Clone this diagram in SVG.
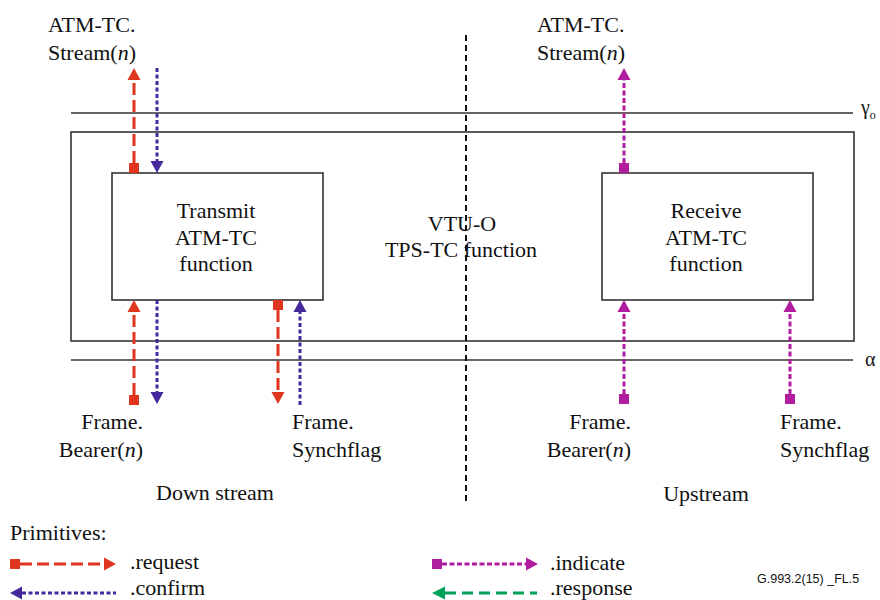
<svg xmlns="http://www.w3.org/2000/svg" width="880" height="600" viewBox="0 0 880 600">
<style>
.box{fill:#fff;stroke:#333;stroke-width:1.6}
.ref{stroke:#333;stroke-width:1.6}
.req{stroke:#E0361F;stroke-width:3;stroke-dasharray:12 5;fill:none}
.cnf{stroke:#44289C;stroke-width:3;stroke-dasharray:4 2.5;fill:none}
.ind{stroke:#B01D9F;stroke-width:3;stroke-dasharray:5 2.5;fill:none}
.rsp{stroke:#00A057;stroke-width:3;stroke-dasharray:11 6;fill:none}
.fr{fill:#E0361F}.fc{fill:#44289C}.fi{fill:#B01D9F}.fg{fill:#00A057}
</style>
<rect width="880" height="600" fill="#fff"/>
<g font-family="'Liberation Serif', 'Times New Roman', serif" font-size="22" fill="#111">
<g id="reference-lines">
<line class="ref" x1="71" y1="113" x2="853" y2="113"/>
<line class="ref" x1="71" y1="360" x2="853" y2="360"/>
<text x="861" y="114" font-size="20">γ<tspan font-size="12" dy="5">o</tspan></text>
<text x="865" y="366" font-size="20">α</text>
</g>
<g id="vtu-o">
<rect class="box" x="71" y="132" width="783" height="209"/>
<text x="462" y="231" text-anchor="middle">VTU-O</text>
<text x="461" y="257" text-anchor="middle">TPS-TC function</text>
</g>
<line x1="466" y1="35" x2="466" y2="502" stroke="#111" stroke-width="2" stroke-dasharray="6 4"/>
<g id="transmit">
<rect class="box" x="112" y="173" width="211" height="127"/>
<text x="216" y="218" text-anchor="middle">Transmit</text>
<text x="216" y="245" text-anchor="middle">ATM-TC</text>
<text x="216" y="271" text-anchor="middle">function</text>
</g>
<g id="receive">
<rect class="box" x="602" y="173" width="211" height="127"/>
<text x="706" y="218" text-anchor="middle">Receive</text>
<text x="706" y="245" text-anchor="middle">ATM-TC</text>
<text x="706" y="271" text-anchor="middle">function</text>
</g>
<g id="labels">
<text x="48" y="32">ATM-TC.</text>
<text x="48" y="60">Stream(<tspan font-style="italic">n</tspan>)</text>
<text x="537" y="32">ATM-TC.</text>
<text x="537" y="60">Stream(<tspan font-style="italic">n</tspan>)</text>
<text x="143" y="429" text-anchor="end">Frame.</text>
<text x="143" y="457" text-anchor="end">Bearer(<tspan font-style="italic">n</tspan>)</text>
<text x="292" y="429">Frame.</text>
<text x="292" y="457">Synchflag</text>
<text x="631" y="429" text-anchor="end">Frame.</text>
<text x="631" y="457" text-anchor="end">Bearer(<tspan font-style="italic">n</tspan>)</text>
<text x="780" y="429">Frame.</text>
<text x="780" y="457">Synchflag</text>
<text x="215" y="500" text-anchor="middle">Down stream</text>
<text x="706" y="501" text-anchor="middle">Upstream</text>
</g>
<g id="connectors">
<rect class="fr" x="129" y="163" width="10" height="10"/>
<line class="req" x1="134" y1="163" x2="134" y2="80"/>
<polygon class="fr" points="134,68 127.5,80 140.5,80"/>
<line class="cnf" x1="157" y1="68" x2="157" y2="161"/>
<polygon class="fc" points="157,173 150.5,161 163.5,161"/>
<rect class="fr" x="129" y="395" width="10" height="10"/>
<line class="req" x1="134" y1="395" x2="134" y2="312"/>
<polygon class="fr" points="134,300 127.5,312 140.5,312"/>
<line class="cnf" x1="157" y1="300" x2="157" y2="392"/>
<polygon class="fc" points="157,404 150.5,392 163.5,392"/>
<rect class="fr" x="273" y="300" width="10" height="10"/>
<line class="req" x1="278" y1="310" x2="278" y2="392"/>
<polygon class="fr" points="278,404 271.5,392 284.5,392"/>
<line class="cnf" x1="300" y1="405" x2="300" y2="312"/>
<polygon class="fc" points="300,300 293.5,312 306.5,312"/>
<rect class="fi" x="619" y="163" width="10" height="10"/>
<line class="ind" x1="624" y1="163" x2="624" y2="80"/>
<polygon class="fi" points="624,68 617.5,80 630.5,80"/>
<rect class="fi" x="619" y="394" width="10" height="10"/>
<line class="ind" x1="624" y1="394" x2="624" y2="312"/>
<polygon class="fi" points="624,300 617.5,312 630.5,312"/>
<rect class="fi" x="785" y="394" width="10" height="10"/>
<line class="ind" x1="790" y1="394" x2="790" y2="312"/>
<polygon class="fi" points="790,300 783.5,312 796.5,312"/>
</g>
<g id="legend">
<text x="10" y="540">Primitives:</text>
<rect class="fr" x="10" y="559" width="10" height="10"/>
<line class="req" x1="20" y1="564" x2="103" y2="564"/>
<polygon class="fr" points="116,564 104,557.5 104,570.5"/>
<text x="130" y="569">.request</text>
<polygon class="fc" points="10,593 22,586.5 22,599.5"/>
<line class="cnf" x1="22" y1="593" x2="116" y2="593"/>
<text x="130" y="595">.confirm</text>
<rect class="fi" x="432" y="559" width="10" height="10"/>
<line class="ind" x1="442" y1="564" x2="526" y2="564"/>
<polygon class="fi" points="538,564 526,557.5 526,570.5"/>
<text x="550" y="570">.indicate</text>
<polygon class="fg" points="432,593 445,586.5 445,599.5"/>
<line class="rsp" x1="445" y1="593" x2="537" y2="593"/>
<text x="550" y="595">.response</text>
<text x="757" y="583" font-family="'Liberation Sans', Arial, sans-serif" font-size="12.5">G.993.2(15) _FL.5</text>
</g>
</g>
</svg>
